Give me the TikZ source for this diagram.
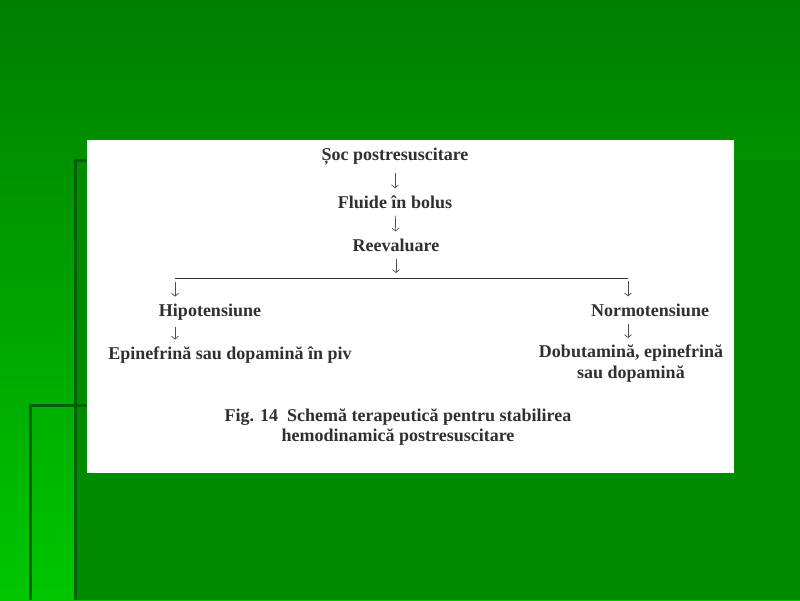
\documentclass[tikz,border=0pt]{standalone}
\usepackage{fontspec}
\setmainfont{Liberation Serif}
\usepackage{tikz}
\usetikzlibrary{arrows.meta}
\definecolor{slidetop}{RGB}{0,126,0}
\definecolor{slidemid}{RGB}{0,150,0}
\definecolor{slidebot}{RGB}{0,198,0}
\definecolor{panelgreen}{RGB}{0,139,0}
\definecolor{rulegreen}{RGB}{0,96,8}
\definecolor{inkgray}{RGB}{48,48,48}
\tikzset{
	lbl/.style={font=\fontsize{18}{21}\selectfont\bfseries, text=inkgray, inner xsep=0pt, inner ysep=7pt, align=center},
	flow/.style={-{Straight Barb[length=3pt,width=7pt]}, draw=inkgray!85, line width=0.7pt},
	bar/.style={draw=inkgray, line width=0.9pt},
}

\begin{document}
\begin{tikzpicture}[x=1pt, y=-1pt]
			%%%%% START %%%%%
			\useasboundingbox (0,0) rectangle (800,600);
			
			\shade[top color=slidetop, middle color=slidemid, bottom color=slidebot] (0,0) rectangle (800,600);
			\fill[panelgreen] (75,160) rectangle (800,600);
			\draw[rulegreen, line width=3pt] (75,600) -- (75,160) -- (87,160);
			\draw[rulegreen, line width=3pt] (30,600) -- (30,405) -- (87,405);
			
			\fill[white] (87,140) rectangle (734,473);
			
			\node[lbl] (soc) at (395,157) {Șoc postresuscitare};
			\node[lbl] (fluide) at (395,202) {Fluide în bolus};
			\node[lbl] (reev) at (396,245) {Reevaluare};
			
			\coordinate (ramst) at (175,278);
			\coordinate (ramdr) at (628,278);
			
			\node[lbl] (hipo) at (210,312) {Hipotensiune};
			\node[lbl] (epi) at (230,355) {Epinefrină sau dopamină în piv};
			\node[lbl] (normo) at (650,310) {Normotensiune};
			\node[lbl] (dobu) at (631,364) {Dobutamină, epinefrină\\sau dopamină};
			
			\node[lbl, font=\fontsize{18}{20}\selectfont\bfseries] (fig) at (398,427) {Fig. 14\ \ Schemă terapeutică pentru stabilirea\\hemodinamică postresuscitare};
			
			\draw[flow] (soc) -- (fluide);
			\draw[flow] (fluide) -- (reev);
			\draw[flow, shorten >=5pt] (reev) -- (reev |- ramst);
			\draw[bar] (ramst) -- (ramdr);
			\draw[flow, shorten <=4pt] (ramst) -- (ramst |- hipo.north);
			\draw[flow, shorten <=3pt] (ramdr) -- (ramdr |- normo.north);
			\draw[flow] (ramst |- hipo.south) -- (ramst |- epi.north);
			\draw[flow] (ramdr |- normo.south) -- (ramdr |- dobu.north);
			
			%%%%% END %%%%%
\end{tikzpicture}
\end{document}
